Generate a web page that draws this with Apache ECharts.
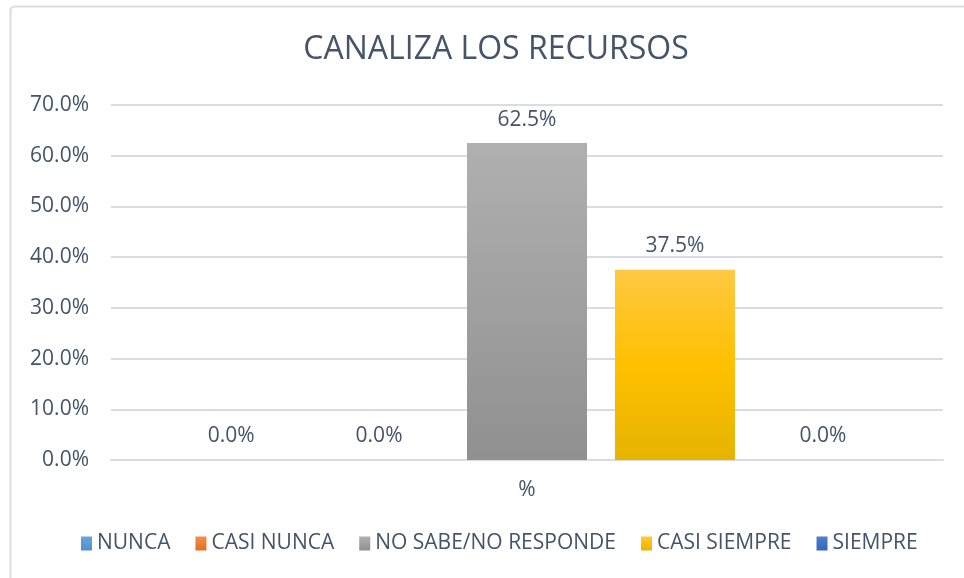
<!DOCTYPE html>
<html>
<head>
<meta charset="utf-8">
<script src="https://cdn.jsdelivr.net/npm/echarts@6/dist/echarts.min.js"></script>
<style>
  html, body { margin: 0; padding: 0; background: #fff; }
  #main { width: 964px; height: 578px; }
</style>
</head>
<body>
<div id="main"></div>
<script>
var categories = ['%'];
var seriesNames = ['NUNCA', 'CASI NUNCA', 'NO SABE/NO RESPONDE', 'CASI SIEMPRE', 'SIEMPRE'];
var seriesValues = [[0], [0], [62.5], [37.5], [0]];
var yTicks = { min: 0, max: 70, interval: 10 };

var colors = [
  ['#6AA6DC', '#4F8FCB'],
  ['#F48D4E', '#E0701F'],
  ['#B0B0B0', '#909090'],
  ['#FFC843', '#FFC000', '#E6B400'],
  ['#4F7FCF', '#3864B8']
];

function grad(c) {
  var stops = c.map(function (col, i) {
    return { offset: i / (c.length - 1), color: col };
  });
  return new echarts.graphic.LinearGradient(0, 0, 0, 1, stops);
}

var textColor = '#44546A';
var font = 'Open Sans';
var myChart = echarts.init(document.getElementById('main'));

var series = seriesNames.map(function (name, i) {
  return {
    name: name,
    type: 'bar',
    barWidth: 120,
    barGap: '23.3%',
    data: seriesValues[i],
    itemStyle: { color: grad(colors[i]) },
    label: {
      show: true,
      position: 'top',
      distance: 13,
      color: textColor,
      fontSize: 21,
      fontFamily: font,
      formatter: function (p) { return p.value.toFixed(1) + '%'; }
    }
  };
});

var option = {
  animation: false,
  title: {
    text: 'CANALIZA LOS RECURSOS',
    left: 491,
    textAlign: 'center',
    top: 29,
    textStyle: {
      color: textColor,
      fontSize: 32,
      fontWeight: 'normal',
      fontFamily: font
    }
  },
  graphic: [{
    type: 'rect',
    shape: { x: 10.5, y: 6.5, width: 960, height: 580, r: 4 },
    style: { fill: 'none', stroke: '#D9DDE3', lineWidth: 2 },
    silent: true
  }],
  legend: {
    bottom: 19,
    left: 76,
    itemWidth: 11,
    itemHeight: 14,
    itemGap: 25,
    icon: 'rect',
    textStyle: { color: textColor, fontSize: 21, fontFamily: font },
    data: seriesNames
  },
  grid: { left: 111, right: 21, top: 105, bottom: 118 },
  xAxis: {
    type: 'category',
    data: categories,
    axisLine: { lineStyle: { color: '#D9DCE3', width: 2 } },
    axisTick: { show: false },
    axisLabel: { color: textColor, fontSize: 21, fontFamily: font, margin: 20 }
  },
  yAxis: {
    type: 'value',
    min: yTicks.min,
    max: yTicks.max,
    interval: yTicks.interval,
    axisLine: { show: false },
    axisTick: { show: false },
    splitLine: { lineStyle: { color: '#D9DCE3', width: 2 } },
    axisLabel: {
      color: textColor,
      fontSize: 21,
      fontFamily: font,
      margin: 22,
      formatter: function (v) { return v.toFixed(1) + '%'; }
    }
  },
  series: series
};

myChart.setOption(option);
</script>
</body>
</html>
